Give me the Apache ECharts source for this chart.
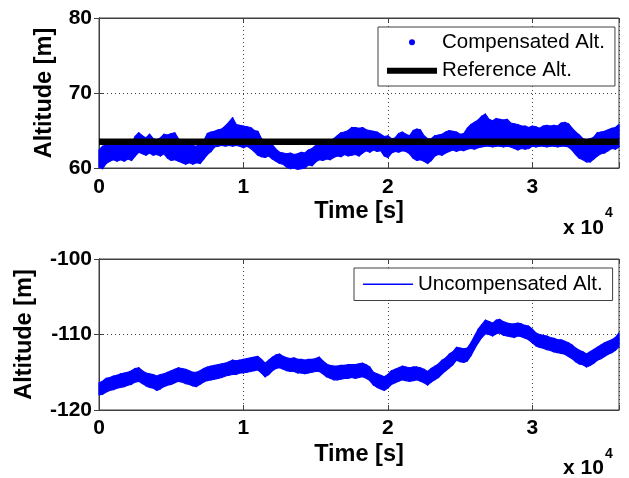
<!DOCTYPE html>
<html>
<head>
<meta charset="utf-8">
<script src="https://cdn.jsdelivr.net/npm/echarts@6/dist/echarts.min.js"></script>
<style>
  html, body { margin: 0; padding: 0; background: #fff; }
  #chart { width: 629px; height: 478px; }
</style>
</head>
<body>
<div id="chart"></div>
<script>
// Sample times [s]
const timeSec = [
  0,250,500,750,1000,1250,1500,1750,2000,2250,
  2500,2750,3000,3250,3500,3750,4000,4250,4500,4750,
  5000,5250,5500,5750,6000,6250,6500,6750,7000,7250,
  7500,7750,8000,8250,8500,8750,9000,9250,9500,9750,
  10000,10250,10500,10750,11000,11250,11500,11750,12000,12250,
  12500,12750,13000,13250,13500,13750,14000,14250,14500,14750,
  15000,15250,15500,15750,16000,16250,16500,16750,17000,17250,
  17500,17750,18000,18250,18500,18750,19000,19250,19500,19750,
  20000,20250,20500,20750,21000,21250,21500,21750,22000,22250,
  22500,22750,23000,23250,23500,23750,24000,24250,24500,24750,
  25000,25250,25500,25750,26000,26250,26500,26750,27000,27250,
  27500,27750,28000,28250,28500,28750,29000,29250,29500,29750,
  30000,30250,30500,30750,31000,31250,31500,31750,32000,32250,
  32500,32750,33000,33250,33500,33750,34000,34250,34500,34750,
  35000,35250,35500,35750,36000];

// Compensated altitude [m]: upper and lower edge of the noisy readings
const compUpper = [
  62.4,62.9,63.1,63.0,63.3,63.1,63.4,63.2,63.4,63.3,
  64.2,64.7,64.3,64.0,64.5,63.9,63.8,64.0,64.5,64.4,
  64.6,64.7,63.9,63.3,63.4,63.2,63.0,62.9,63.3,63.6,
  64.6,64.8,64.9,65.1,65.2,65.6,66.1,66.7,65.8,65.7,
  65.6,65.5,65.4,65.0,64.9,63.9,63.3,63.2,63.1,62.5,
  62.1,62.0,61.9,62.0,61.8,61.9,62.1,62.0,62.4,62.6,
  63.0,63.2,63.3,63.2,63.5,63.9,64.3,64.7,64.8,65.0,
  65.4,65.4,65.3,65.4,65.1,65.0,64.9,64.8,64.5,64.2,
  64.3,63.9,64.0,64.6,64.8,64.5,64.3,65.0,65.2,65.1,
  64.3,63.9,63.9,64.3,64.4,64.5,64.8,65.0,64.9,64.8,
  64.5,64.6,65.3,65.8,66.1,66.4,66.9,67.2,66.5,66.3,
  66.6,66.5,66.4,66.5,66.0,65.9,65.8,65.6,65.6,65.4,
  65.6,65.5,65.3,65.6,65.7,65.6,65.7,65.6,66.0,66.1,
  65.9,65.3,64.8,64.4,63.9,63.8,63.9,64.1,64.7,64.8,
  64.9,65.1,65.3,65.4,65.8];
const compLower = [
  60.1,59.9,60.6,60.9,61.1,60.9,61.1,60.9,61.2,61.0,
  61.6,62.1,61.9,61.7,62.0,61.7,61.8,61.6,61.9,61.3,
  61.0,61.1,60.9,60.7,60.5,60.7,60.5,60.7,60.6,61.2,
  61.8,62.2,62.8,62.9,63.0,62.9,63.0,62.9,63.0,62.9,
  62.7,62.9,62.6,62.2,61.7,61.5,61.4,61.6,61.2,60.9,
  60.6,60.5,60.1,59.9,60.0,59.8,59.9,60.0,60.4,60.3,
  60.8,61.1,61.0,61.2,61.1,61.4,61.6,61.5,61.8,61.6,
  61.7,61.8,61.6,62.0,62.3,62.1,62.4,62.2,62.3,61.6,
  61.4,62.0,62.2,62.1,62.3,62.2,61.9,61.3,61.0,61.1,
  60.9,60.6,61.0,61.6,61.8,61.7,62.0,62.2,62.4,62.2,
  62.4,62.3,62.5,62.6,62.5,62.7,62.8,62.9,62.9,62.8,
  62.9,62.9,62.8,62.9,62.8,62.6,62.4,62.6,62.5,62.6,
  62.9,62.8,62.9,62.9,62.8,62.9,62.9,62.8,62.9,62.9,
  62.8,62.4,61.8,61.3,61.1,60.8,60.8,61.2,61.6,61.9,
  62.0,62.3,62.6,62.5,62.8];

// Reference altitude [m]
const referenceAlt = 63.5;

// Uncompensated altitude [m]: upper and lower edge of the noisy readings
const uncompUpper = [
  -116.4,-116.2,-115.8,-115.7,-115.5,-115.4,-115.2,-115.1,-115.0,-114.8,
  -114.5,-114.4,-114.8,-115.1,-115.2,-115.3,-115.5,-115.3,-115.2,-115.0,
  -114.8,-114.6,-114.4,-114.5,-114.6,-114.8,-115.0,-115.0,-114.8,-114.5,
  -114.3,-114.2,-114.1,-114.0,-113.9,-113.8,-113.6,-113.4,-113.5,-113.4,
  -113.3,-113.2,-113.1,-113.0,-112.9,-113.3,-113.8,-113.4,-113.0,-112.7,
  -112.6,-112.9,-113.1,-113.2,-113.1,-113.3,-113.3,-113.4,-113.3,-113.3,
  -113.2,-113.0,-113.5,-113.9,-114.1,-114.2,-114.2,-114.1,-114.1,-114.0,
  -114.0,-114.0,-113.9,-113.8,-114.0,-114.3,-115.0,-115.2,-115.4,-115.6,
  -115.3,-114.8,-114.6,-114.4,-114.2,-114.3,-114.4,-114.3,-114.3,-114.4,
  -114.6,-114.9,-114.5,-114.2,-113.9,-113.4,-113.1,-112.6,-112.3,-111.7,
  -111.8,-111.9,-111.8,-111.1,-110.2,-109.3,-108.7,-108.1,-108.3,-108.5,
  -108.1,-108.0,-108.3,-108.5,-108.6,-108.6,-108.5,-108.6,-108.8,-108.9,
  -109.3,-109.8,-110.0,-110.1,-110.2,-110.4,-110.5,-110.7,-110.7,-110.9,
  -111.1,-111.4,-111.8,-112.1,-112.3,-112.6,-112.3,-112.0,-111.7,-111.4,
  -111.1,-110.9,-110.7,-110.4,-109.8];
const uncompLower = [
  -118.0,-117.9,-117.6,-117.4,-117.3,-117.1,-117.0,-116.9,-116.7,-116.6,
  -116.3,-116.2,-116.5,-116.8,-117.0,-117.1,-117.4,-117.2,-116.9,-116.7,
  -116.6,-116.4,-116.2,-116.3,-116.5,-116.6,-116.8,-116.9,-116.6,-116.3,
  -116.1,-116.0,-115.9,-115.8,-115.7,-115.5,-115.4,-115.3,-115.3,-115.1,
  -115.1,-115.0,-114.9,-114.8,-114.7,-115.1,-115.6,-115.3,-114.8,-114.5,
  -114.4,-114.6,-114.8,-114.9,-114.9,-115.1,-115.1,-115.2,-115.1,-115.0,
  -114.9,-114.9,-115.2,-115.6,-115.8,-116.0,-116.0,-115.9,-115.8,-115.8,
  -115.7,-115.8,-115.7,-115.6,-115.8,-116.1,-116.7,-117.0,-117.2,-117.4,
  -117.1,-116.6,-116.4,-116.2,-116.0,-116.1,-116.2,-116.1,-116.0,-116.2,
  -116.4,-116.7,-116.3,-116.0,-115.7,-115.2,-114.8,-114.4,-114.0,-113.4,
  -113.6,-113.7,-113.5,-112.8,-111.9,-111.1,-110.4,-109.9,-110.0,-110.2,
  -109.9,-109.8,-110.1,-110.2,-110.3,-110.4,-110.2,-110.3,-110.5,-110.7,
  -111.1,-111.5,-111.7,-111.8,-112.0,-112.1,-112.3,-112.4,-112.5,-112.6,
  -112.9,-113.2,-113.6,-113.9,-114.0,-114.3,-114.1,-113.8,-113.4,-113.2,
  -112.9,-112.6,-112.4,-112.1,-111.6];

// Axis ticks
const timeTickLabels = ['0', '1', '2', '3'];   // in units of 10^4 s
const timeTickStep = 10000;
const topAltTicks = [60, 70, 80];
const bottomAltTicks = [-120, -110, -100];

const FONT = '"Liberation Sans", Arial, Helvetica, sans-serif';
const BLUE = '#0000ff';
const FRAME = '#404040';

function timeAxis(gridIndex, nameGap, labelMargin) {
  return {
    gridIndex, type: 'value', position: 'bottom',
    min: timeSec[0], max: timeSec[timeSec.length - 1], interval: timeTickStep,
    axisLine: { show: true, lineStyle: { color: FRAME, width: 1 } },
    axisTick: { show: true, inside: true, length: 5, lineStyle: { color: FRAME } },
    axisLabel: {
      margin: labelMargin, fontSize: 21, fontWeight: 'bold', color: '#000', fontFamily: FONT,
      formatter: v => (v % timeTickStep === 0 ? (timeTickLabels[v / timeTickStep] || '') : '')
    },
    splitLine: { show: true, lineStyle: { color: FRAME, type: [1, 3], width: 1 } },
    name: 'Time [s]', nameLocation: 'middle', nameGap,
    nameTextStyle: { fontSize: 23.5, fontWeight: 'bold', color: '#000', fontFamily: FONT }
  };
}
function timeMirror(gridIndex) {
  return {
    gridIndex, type: 'value', position: 'top',
    min: timeSec[0], max: timeSec[timeSec.length - 1], interval: timeTickStep,
    axisLine: { show: true, lineStyle: { color: FRAME } },
    axisTick: { show: true, inside: true, length: 5, lineStyle: { color: FRAME } },
    axisLabel: { show: false }, splitLine: { show: false }
  };
}
function altAxis(gridIndex, ticks, nameGap) {
  return {
    gridIndex, type: 'value', position: 'left',
    min: ticks[0], max: ticks[ticks.length - 1], interval: ticks[1] - ticks[0],
    axisLine: { show: true, lineStyle: { color: FRAME } },
    axisTick: { show: true, inside: true, length: 5, lineStyle: { color: FRAME } },
    axisLabel: { margin: 7, fontSize: 21, fontWeight: 'bold', color: '#000', fontFamily: FONT },
    splitLine: { show: true, lineStyle: { color: FRAME, type: [1, 3], width: 1 } },
    name: 'Altitude [m]', nameLocation: 'middle', nameGap,
    nameTextStyle: { fontSize: 23.5, fontWeight: 'bold', color: '#000', fontFamily: FONT }
  };
}
function altMirror(gridIndex, ticks) {
  return {
    gridIndex, type: 'value', position: 'right',
    min: ticks[0], max: ticks[ticks.length - 1], interval: ticks[1] - ticks[0],
    axisLine: { show: true, lineStyle: { color: FRAME } },
    axisTick: { show: true, inside: true, length: 5, lineStyle: { color: FRAME } },
    axisLabel: { show: false }, splitLine: { show: false }
  };
}

// Band of noisy readings: each step is a filled quad between the upper and lower edge
function bandSeries(name, xAxisIndex, yAxisIndex, upper, lower) {
  return {
    name, type: 'custom', xAxisIndex, yAxisIndex,
    itemStyle: { color: BLUE },
    encode: { x: 0, y: [1, 2] },
    data: timeSec.map((t, i) => [t, upper[i], lower[i]]),
    renderItem: (params, api) => {
      const i = params.dataIndex;
      if (i >= timeSec.length - 1) return null;
      const pts = [
        api.coord([timeSec[i], upper[i]]),
        api.coord([timeSec[i + 1], upper[i + 1]]),
        api.coord([timeSec[i + 1], lower[i + 1]]),
        api.coord([timeSec[i], lower[i]])
      ];
      return {
        type: 'polygon', shape: { points: pts },
        style: { fill: BLUE, stroke: BLUE, lineWidth: 1.2, lineJoin: 'round' }
      };
    }
  };
}

const legendText = { fontSize: 20.5, color: '#000', fontFamily: FONT };

const option = {
  animation: false,
  backgroundColor: '#ffffff',
  grid: [
    { left: 99, top: 18, width: 520, height: 150, show: true, borderColor: FRAME, borderWidth: 1, backgroundColor: 'transparent' },
    { left: 99, top: 259, width: 520, height: 151, show: true, borderColor: FRAME, borderWidth: 1, backgroundColor: 'transparent' }
  ],
  xAxis: [timeAxis(0, 32, 9), timeMirror(0), timeAxis(1, 33, 8), timeMirror(1)],
  yAxis: [altAxis(0, topAltTicks, 42), altMirror(0, topAltTicks), altAxis(1, bottomAltTicks, 62), altMirror(1, bottomAltTicks)],
  legend: [
    {
      left: 378, top: 27, orient: 'vertical',
      data: [{ name: 'Compensated Alt.', icon: 'circle' }, { name: 'Reference Alt.', icon: 'rect' }],
      itemWidth: 50, itemHeight: 6, itemGap: 7.5, padding: [4.75, 10, 4.75, 9],
      backgroundColor: '#fff', borderColor: FRAME, borderWidth: 1, borderRadius: 0,
      textStyle: legendText, selectedMode: false
    },
    {
      left: 354, top: 268, orient: 'vertical',
      data: [{ name: 'Uncompensated Alt.', icon: 'rect' }],
      itemWidth: 50, itemHeight: 1.3, padding: [5.75, 10, 5.75, 9],
      backgroundColor: '#fff', borderColor: FRAME, borderWidth: 1, borderRadius: 0,
      textStyle: legendText, selectedMode: false
    }
  ],
  graphic: [
    { type: 'text', style: { x: 563, y: 228, text: 'x 10', fontSize: 21, fontWeight: 'bold', fontFamily: FONT, fill: '#000', verticalAlign: 'middle' } },
    { type: 'text', style: { x: 605, y: 213, text: '4', fontSize: 14, fontWeight: 'bold', fontFamily: FONT, fill: '#000', verticalAlign: 'middle' } },
    { type: 'text', style: { x: 563, y: 468, text: 'x 10', fontSize: 21, fontWeight: 'bold', fontFamily: FONT, fill: '#000', verticalAlign: 'middle' } },
    { type: 'text', style: { x: 605, y: 454, text: '4', fontSize: 14, fontWeight: 'bold', fontFamily: FONT, fill: '#000', verticalAlign: 'middle' } }
  ],
  series: [
    bandSeries('Compensated Alt.', 0, 0, compUpper, compLower),
    {
      name: 'Reference Alt.', type: 'line', xAxisIndex: 0, yAxisIndex: 0,
      symbol: 'none', color: '#000', z: 5,
      lineStyle: { width: 6.5, color: '#000' },
      data: [[timeSec[0], referenceAlt], [timeSec[timeSec.length - 1], referenceAlt]]
    },
    bandSeries('Uncompensated Alt.', 2, 2, uncompUpper, uncompLower)
  ]
};

const chart = echarts.init(document.getElementById('chart'), null, { renderer: 'canvas' });
chart.setOption(option);
</script>
</body>
</html>
